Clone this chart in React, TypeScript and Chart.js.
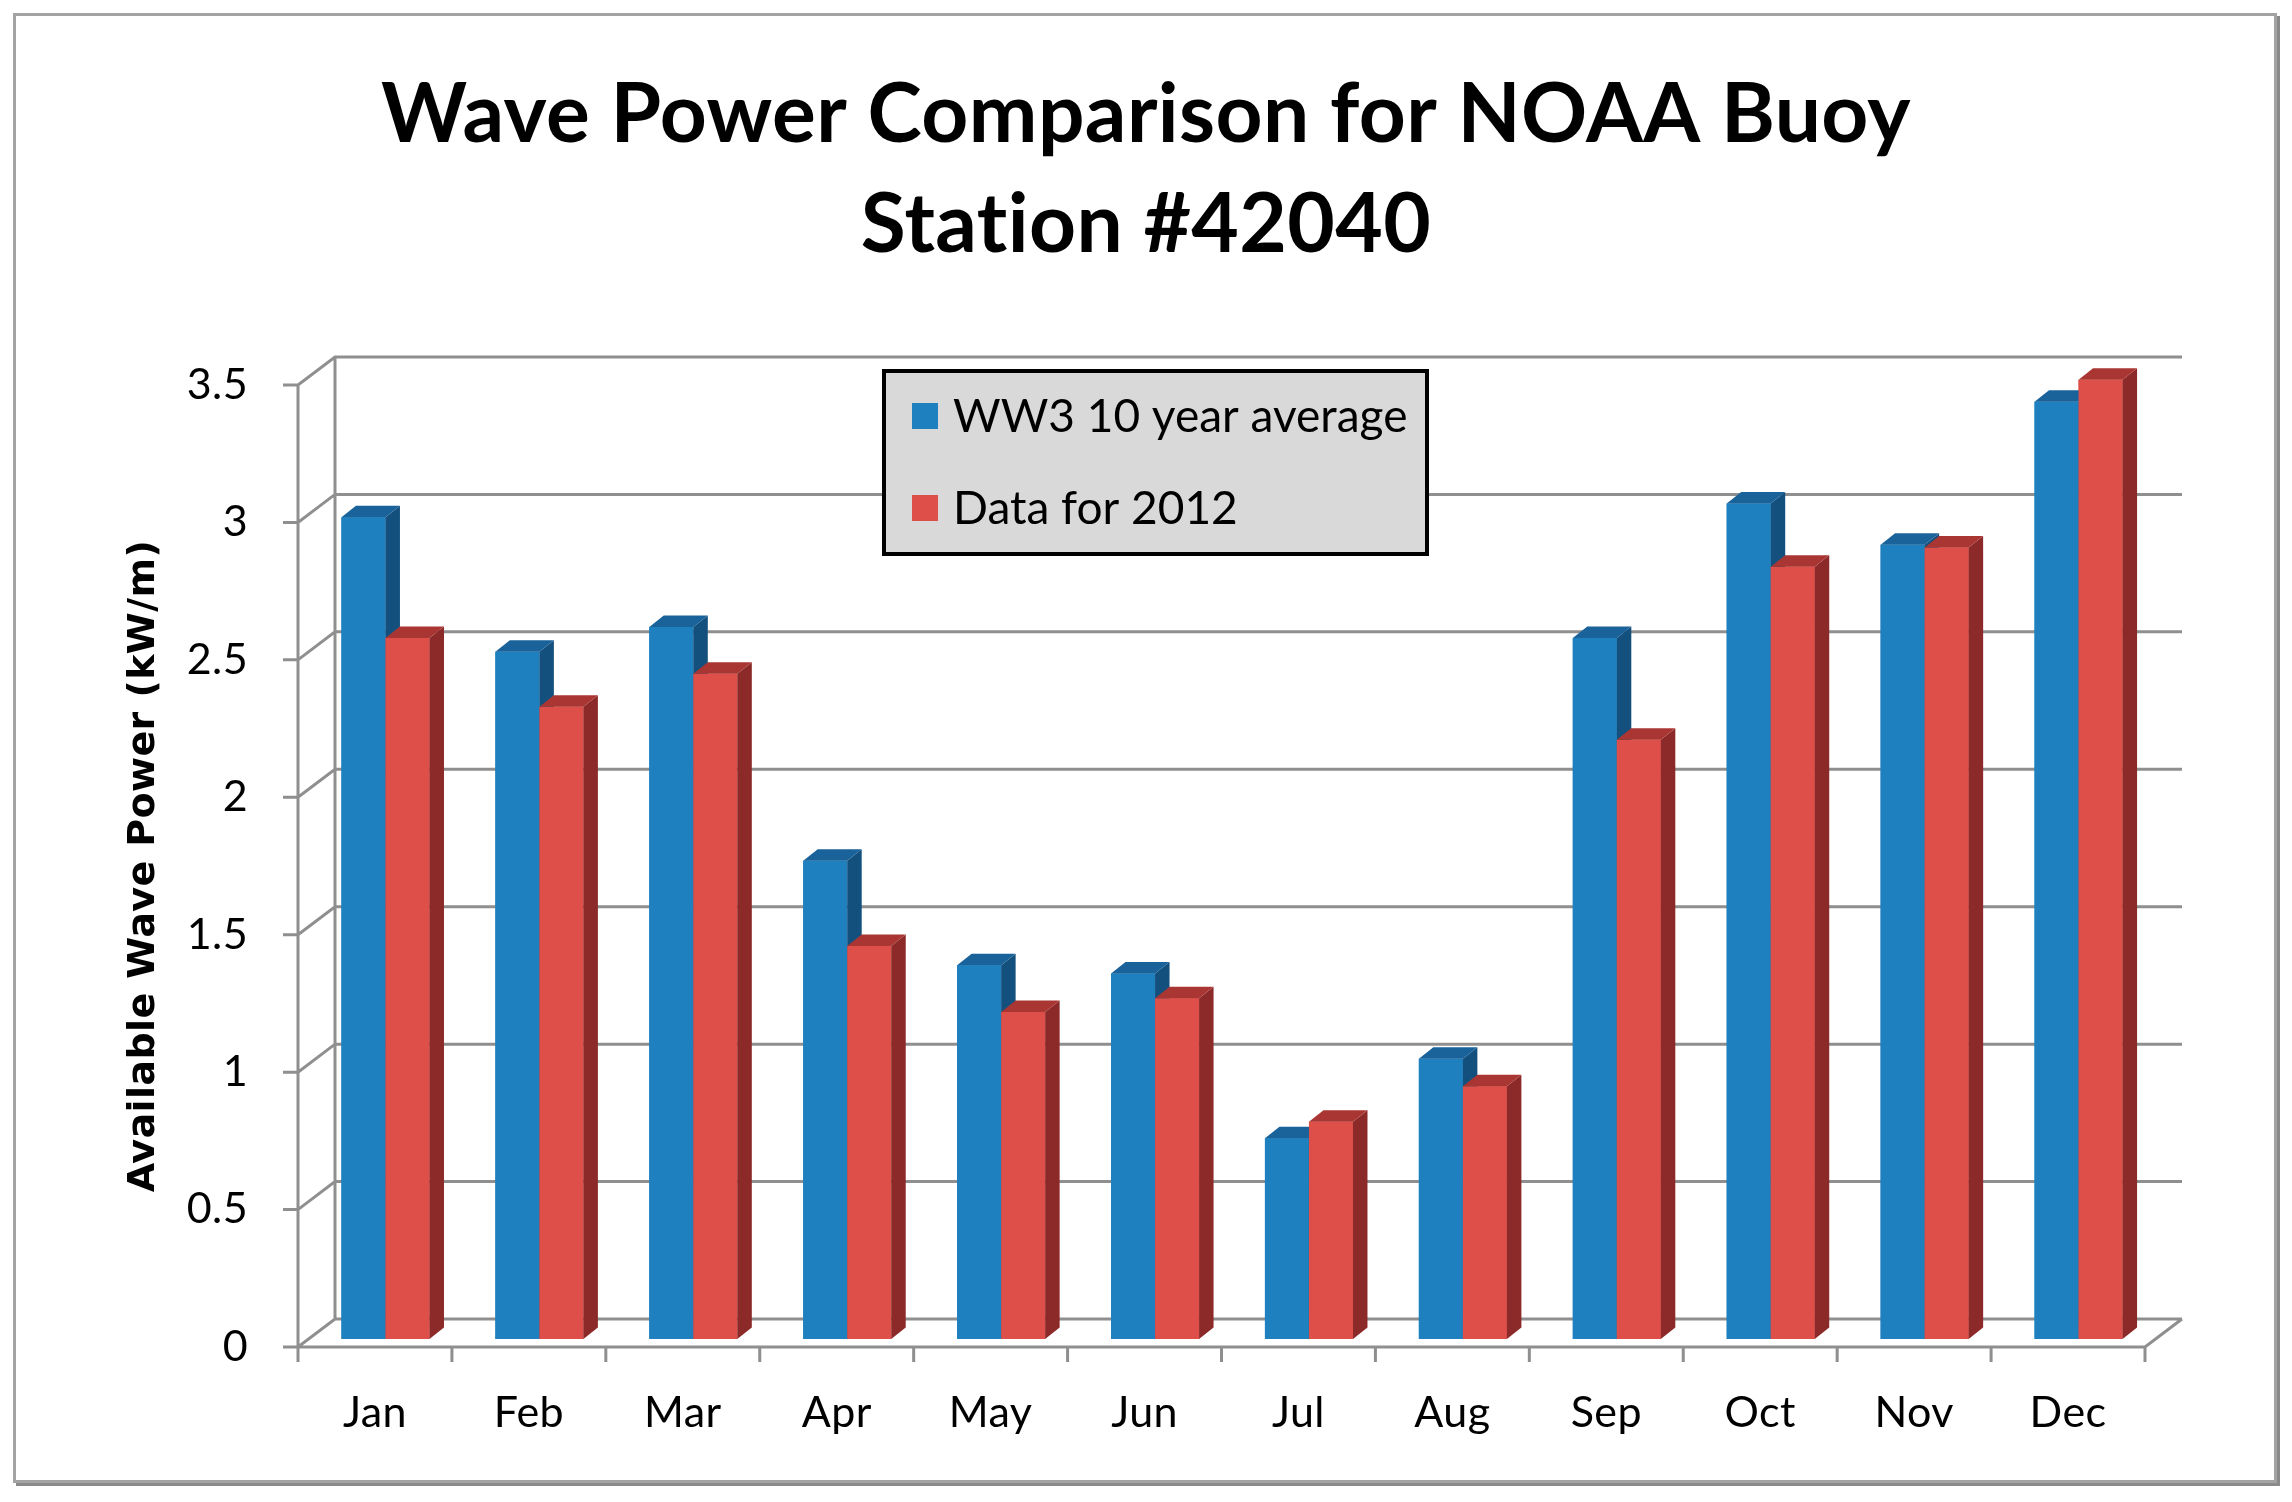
import { useEffect, useRef } from "react";
import { Chart, registerables } from "chart.js";
Chart.register(...registerables);

const months = ["Jan", "Feb", "Mar", "Apr", "May", "Jun", "Jul", "Aug", "Sep", "Oct", "Nov", "Dec"];
const ww3Avg = [2.99, 2.5, 2.59, 1.74, 1.36, 1.33, 0.73, 1.02, 2.55, 3.04, 2.89, 3.41];
const data2012 = [2.55, 2.3, 2.42, 1.43, 1.19, 1.24, 0.79, 0.92, 2.18, 2.81, 2.88, 3.49];
const seriesNames = ["WW3 10 year average", "Data for 2012"];
const titleLines = ["Wave Power Comparison for NOAA Buoy", "Station #42040"];
const yTitle = "Available Wave Power (kW/m)";

// 3d look: back wall offset, bar depth position and bar depth
const WALL = { dx: 37, dy: -28 };
const BAR_SHIFT = { dx: 10.5, dy: -8 };
const BAR_DEPTH = { dx: 14.5, dy: -11.5 };
const shade = [
  { side: "#14507e", top: "#1a629a" },
  { side: "#8c2a29", top: "#aa3633" },
];
const GRID = "#8f8f8f";

const noLigatures = {
  id: "noLigatures",
  beforeDraw(chart: any) {
    chart.ctx.letterSpacing = "0.4px";
  },
};

const box3d = {
  id: "box3d",
  beforeDatasetsDraw(chart: any) {
    const { ctx, chartArea: a, scales } = chart;
    const y = scales.y;
    const x = scales.x;
    ctx.save();
    ctx.strokeStyle = GRID;
    ctx.lineWidth = 3;
    ctx.lineCap = "butt";
    ctx.beginPath();
    y.ticks.forEach((t: any) => {
      const py = y.getPixelForValue(t.value);
      ctx.moveTo(a.left - 15, py);
      ctx.lineTo(a.left, py);
      ctx.lineTo(a.left + WALL.dx, py + WALL.dy);
      ctx.lineTo(a.right + WALL.dx, py + WALL.dy);
    });
    // front axis, back wall edge, floor
    ctx.moveTo(a.left, a.top);
    ctx.lineTo(a.left, a.bottom);
    ctx.moveTo(a.left + WALL.dx, a.top + WALL.dy);
    ctx.lineTo(a.left + WALL.dx, a.bottom + WALL.dy);
    ctx.moveTo(a.left, a.bottom);
    ctx.lineTo(a.right, a.bottom);
    ctx.lineTo(a.right + WALL.dx, a.bottom + WALL.dy);
    const n = x.ticks.length;
    const cw = (a.right - a.left) / n;
    for (let i = 0; i <= n; i++) {
      ctx.moveTo(a.left + i * cw, a.bottom);
      ctx.lineTo(a.left + i * cw, a.bottom + 15);
    }
    ctx.stroke();
    ctx.restore();
    ctx.save();
    ctx.translate(BAR_SHIFT.dx, BAR_SHIFT.dy);
  },
  afterDatasetsDraw(chart: any) {
    const { ctx } = chart;
    const metas = [chart.getDatasetMeta(0), chart.getDatasetMeta(1)];
    const n = metas[0].data.length;
    for (let i = 0; i < n; i++) {
      metas.forEach((meta: any, d: number) => {
        const el = meta.data[i];
        el.draw(ctx);
        const { x, y, base, width } = el.getProps(["x", "y", "base", "width"], true);
        const l = x - width / 2;
        const r = x + width / 2;
        ctx.fillStyle = shade[d].side;
        ctx.beginPath();
        ctx.moveTo(r, y);
        ctx.lineTo(r + BAR_DEPTH.dx, y + BAR_DEPTH.dy);
        ctx.lineTo(r + BAR_DEPTH.dx, base + BAR_DEPTH.dy);
        ctx.lineTo(r, base);
        ctx.closePath();
        ctx.fill();
        ctx.fillStyle = shade[d].top;
        ctx.beginPath();
        ctx.moveTo(l, y);
        ctx.lineTo(l + BAR_DEPTH.dx, y + BAR_DEPTH.dy);
        ctx.lineTo(r + BAR_DEPTH.dx, y + BAR_DEPTH.dy);
        ctx.lineTo(r, y);
        ctx.closePath();
        ctx.fill();
      });
    }
    ctx.restore();
  },
};

const boxLegend = {
  id: "boxLegend",
  afterDraw(chart: any) {
    const { ctx, chartArea: a } = chart;
    const left = a.left + 586;
    const top = a.top - 14;
    const w = 543;
    const h = 183;
    ctx.save();
    ctx.fillStyle = "#d9d9d9";
    ctx.fillRect(left, top, w, h);
    ctx.strokeStyle = "#000";
    ctx.lineWidth = 4;
    ctx.strokeRect(left, top, w, h);
    ctx.font = "46px Lato";
    ctx.letterSpacing = "0px";
    ctx.textBaseline = "middle";
    chart.data.datasets.forEach((ds: any, i: number) => {
      const cy = top + 45 + i * 92;
      ctx.fillStyle = ds.backgroundColor;
      ctx.fillRect(left + 28, cy - 13, 26, 26);
      ctx.fillStyle = "#000";
      ctx.fillText(ds.label, left + 69, cy + 1);
    });
    ctx.restore();
  },
};

export default function App() {
  const canvasRef = useRef<HTMLCanvasElement>(null);
  const chartInst = useRef<Chart | null>(null);

  useEffect(() => {
    if (!canvasRef.current) return;
    chartInst.current?.destroy();
    chartInst.current = new Chart(canvasRef.current, {
      type: "bar",
      data: {
        labels: months,
        datasets: [
          { label: seriesNames[0], data: ww3Avg, backgroundColor: "#1f80c0", clip: false as any },
          { label: seriesNames[1], data: data2012, backgroundColor: "#de4f4a", clip: false as any },
        ],
      },
      options: {
        responsive: false,
        animation: false,
        devicePixelRatio: 1,
        layout: { padding: { left: 147, right: 147, top: 0, bottom: 0 } },
        datasets: { bar: { categoryPercentage: 0.572, barPercentage: 1 } },
        plugins: {
          legend: { display: false },
          tooltip: { enabled: false },
          title: {
            display: true,
            text: titleLines,
            color: "#000",
            font: { family: "Lato", weight: "bold", size: 82, lineHeight: 110 / 82 },
            padding: { top: 61, bottom: 104 },
          },
        },
        scales: {
          x: {
            grid: { display: false, drawTicks: false },
            border: { display: false },
            ticks: { color: "#000", font: { family: "Lato", size: 43 }, padding: 40 },
            afterFit: (s: any) => { s.height = 155; },
          },
          y: {
            min: 0, max: 3.5,
            grid: { display: false, drawTicks: false },
            border: { display: false },
            ticks: {
              stepSize: 0.5, color: "#000", font: { family: "Lato", size: 43 }, padding: 50,
              callback: (v: any) => `${v}`,
            },
            title: {
              display: true, text: yTitle, color: "#000",
              font: { family: "DejaVu Sans", weight: "bold", size: 38, lineHeight: 1.2 },
              padding: { top: 144 - 147 - 22.8, bottom: 0 },
            },
            afterFit: (s: any) => { s.width = 298 - 147; },
          },
        },
      },
      plugins: [noLigatures, box3d, boxLegend],
    });
    return () => chartInst.current?.destroy();
  }, []);

  return (
    <div style={{ position: "absolute", left: 0, top: 0, width: 2292, height: 1502, background: "#fff" }}>
      <div style={{
        position: "absolute", left: 13, top: 13, width: 2258, height: 1464,
        border: "3px solid #a3a3a3", boxShadow: "3px 3px 0 #8a8a8a",
      }} />
      <canvas ref={canvasRef} width={2292} height={1502} style={{ position: "absolute", left: 0, top: 0 }} />
    </div>
  );
}
